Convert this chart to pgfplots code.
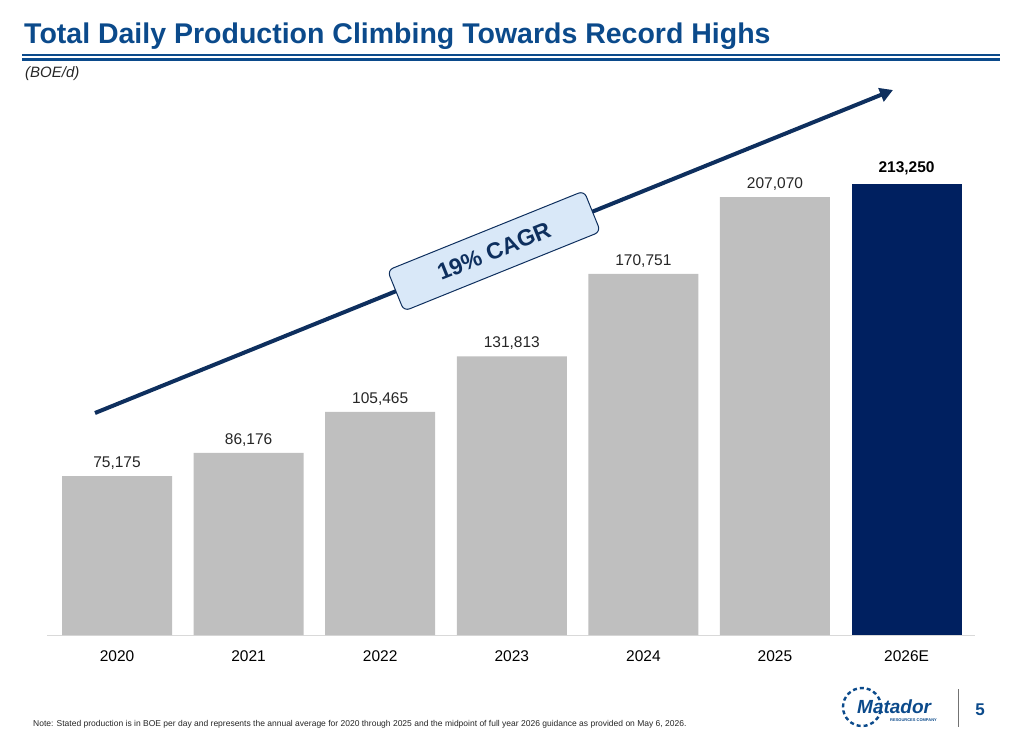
\documentclass[border=0pt]{standalone}
\usepackage{fontspec}
\setmainfont{Liberation Sans}
\usepackage{pgfplots}
\pgfplotsset{compat=1.18}
\usetikzlibrary{arrows.meta}

\definecolor{titleblue}{HTML}{0B4A8B}
\definecolor{navy}{HTML}{002060}
\definecolor{arrownavy}{HTML}{0E2F5E}
\definecolor{bargray}{HTML}{BFBFBF}
\definecolor{boxfill}{HTML}{D9E8F8}
\definecolor{labelgray}{HTML}{262626}

\begin{document}
\begin{tikzpicture}
\path[use as bounding box] (0,0) rectangle (1011bp,-747bp);

% header
\node[anchor=base west, text=titleblue, font=\fontsize{28.5bp}{31bp}\selectfont\bfseries, inner sep=0pt]
  at (24bp,-43bp) {Total Daily Production Climbing Towards Record Highs};
\draw[titleblue, line width=1.8bp] (22bp,-55bp) -- (1000bp,-55bp);
\draw[titleblue, line width=2.8bp] (22bp,-59.8bp) -- (1000bp,-59.8bp);
\node[anchor=base west, text=labelgray, font=\fontsize{15bp}{17bp}\selectfont\itshape, inner sep=0pt]
  at (25bp,-77bp) {(BOE/d)};

\begin{axis}[
  at={(47bp,-635bp)}, anchor=south west,
  scale only axis, width=928bp, height=535bp,
  xmin=-0.532, xmax=6.52, ymin=0, ymax=253000,
  axis x line=bottom, axis y line=none,
  x axis line style={draw=black!15, line width=1bp, -},
  xtick={0,...,6},
  xticklabels={2020,2021,2022,2023,2024,2025,2026E},
  major tick length=0pt,
  xticklabel style={font=\fontsize{15.5bp}{17bp}\selectfont, text=black, yshift=-12bp},
  /pgf/number format/assume math mode=true,
  ybar, bar width=110bp, bar shift=0pt,
  nodes near coords,
  point meta=explicit symbolic,
  nodes near coords style={font=\fontsize{15.5bp}{17bp}\selectfont, text=labelgray, yshift=3bp},
  clip=false,
]
\addplot[fill=bargray, draw=none] coordinates {
  (0,75175) [75,175]
  (1,86176) [86,176]
  (2,105465) [105,465]
  (3,131813) [131,813]
  (4,170751) [170,751]
  (5,207070) [207,070]
};
\addplot[fill=navy, draw=none,
  nodes near coords style={font=\fontsize{15.5bp}{17bp}\selectfont\bfseries, text=black, yshift=3bp}]
  coordinates {(6,213250) [213,250]};
\end{axis}

% growth arrow with CAGR tag
\draw[arrownavy, line width=4bp, -{Triangle[length=13bp, width=14bp]}] (95bp,-413bp) -- (893bp,-90bp);
\node[draw=arrownavy, fill=boxfill, line width=1bp,
  rounded corners=6bp, rectangle, minimum width=212bp, minimum height=44bp,
  rotate=22, font=\fontsize{23bp}{25bp}\selectfont\bfseries, text=arrownavy, inner sep=0pt]
  at (494bp,-251bp) {19\% CAGR};

% footer
\node[anchor=base west, text=labelgray, font=\fontsize{8.5bp}{10bp}\selectfont, inner sep=0pt]
  at (33bp,-726bp) {Note: Stated production is in BOE per day and represents the annual average for 2020 through 2025 and the midpoint of full year 2026 guidance as provided on May 6, 2026.};
\draw[titleblue, line width=2.4bp, dash pattern=on 4bp off 3bp] (862bp,-707bp) circle (19bp);
\node[anchor=base west, text=titleblue, font=\fontsize{19bp}{21bp}\selectfont\bfseries\itshape, inner sep=0pt]
  at (857bp,-713bp) {Matador};
\node[anchor=base west, text=titleblue, font=\fontsize{4bp}{5bp}\selectfont\bfseries, inner sep=0pt]
  at (890bp,-721bp) {RESOURCES COMPANY};
\draw[black!55, line width=1bp] (958bp,-689bp) -- (958bp,-727bp);
\node[anchor=base, text=titleblue, font=\fontsize{17bp}{19bp}\selectfont\bfseries, inner sep=0pt]
  at (980bp,-715bp) {5};
\end{tikzpicture}
\end{document}
